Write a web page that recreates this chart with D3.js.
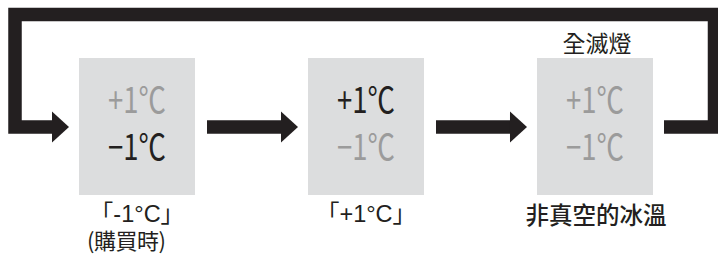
<!DOCTYPE html>
<html>
<head>
<meta charset="utf-8">
<script src="https://cdn.jsdelivr.net/npm/d3@7"></script>
<style>
  body { margin: 0; background: #fff; }
  svg { display: block; }
</style>
</head>
<body>
<div id="vis"></div>
<script>
// Estados del indicador (izquierda -> derecha)
const ESTADOS = ["menos", "mas", "apagado"];
const TEXTO_ARRIBA = ["+1℃", "+1℃", "+1℃"];
const TEXTO_ABAJO = ["−1℃", "−1℃", "−1℃"];
const ENCENDIDO_ARRIBA = [false, true, false];
const ENCENDIDO_ABAJO = [true, false, false];
const ETIQUETA_SUPERIOR = ["", "", "全滅燈"];
const ETIQUETA_1 = ["「-1°C」", "「+1°C」", "非真空的冰溫"];
const ETIQUETA_2 = ["(購買時)", "", ""];

const WIDTH = 718;
const HEIGHT = 254;
const NEGRO = "#231f20";
const GRIS = "#9b9b9b";
const FONDO_CAJA = "#dcddde";
const GROSOR = 13.5;
const Y_FLECHA = 127;
const CAJA_TOP = 58;
const CAJA_BOTTOM = 195;

const SVG = d3.select("#vis").append("svg")
    .attr("width", WIDTH)
    .attr("height", HEIGHT);

const datos = ESTADOS.map((e, i) => ({
    estado: e,
    arriba: TEXTO_ARRIBA[i],
    abajo: TEXTO_ABAJO[i],
    onArriba: ENCENDIDO_ARRIBA[i],
    onAbajo: ENCENDIDO_ABAJO[i],
    sup: ETIQUETA_SUPERIOR[i],
    et1: ETIQUETA_1[i],
    et2: ETIQUETA_2[i],
}));

// Posicion de cada caja
const escalaX = d3.scaleBand()
    .domain(ESTADOS)
    .range([79, 653])
    .paddingInner(0.4934)
    .paddingOuter(0);

const ancho = escalaX.bandwidth();
const centro = d => escalaX(d) + ancho / 2;
const FUENTE_CJK = "'Noto Sans CJK TC', sans-serif";

// Cajas
SVG.selectAll("g.caja")
    .data(datos)
    .join(enter => {
        const g = enter.append("g").attr("class", "caja");
        g.append("rect")
            .attr("x", d => escalaX(d.estado))
            .attr("y", CAJA_TOP)
            .attr("width", ancho)
            .attr("height", CAJA_BOTTOM - CAJA_TOP)
            .attr("fill", FONDO_CAJA);
        g.append("text")
            .attr("x", d => centro(d.estado))
            .attr("y", 113)
            .attr("text-anchor", "middle")
            .attr("font-family", FUENTE_CJK)
            .attr("font-weight", 400)
            .attr("font-size", 35)
            .attr("textLength", 58)
            .attr("lengthAdjust", "spacingAndGlyphs")
            .attr("fill", d => d.onArriba ? NEGRO : GRIS)
            .text(d => d.arriba);
        g.append("text")
            .attr("x", d => centro(d.estado))
            .attr("y", 160)
            .attr("text-anchor", "middle")
            .attr("font-family", FUENTE_CJK)
            .attr("font-weight", 400)
            .attr("font-size", 35)
            .attr("textLength", 58)
            .attr("lengthAdjust", "spacingAndGlyphs")
            .attr("fill", d => d.onAbajo ? NEGRO : GRIS)
            .text(d => d.abajo);
        g.append("text")
            .attr("x", d => centro(d.estado) + 2)
            .attr("y", 52)
            .attr("text-anchor", "middle")
            .attr("font-family", FUENTE_CJK)
            .attr("font-weight", 400)
            .attr("font-size", 23)
            .attr("fill", NEGRO)
            .text(d => d.sup);
        // Etiqueta bajo cada caja
        g.filter(d => d.estado != "apagado").append("text")
            .attr("x", d => centro(d.estado))
            .attr("y", 222)
            .attr("text-anchor", "middle")
            .attr("font-family", "'Liberation Sans', 'Noto Sans CJK TC', sans-serif")
            .attr("font-size", 23.5)
            .attr("fill", NEGRO)
            .text(d => d.et1);
        g.filter(d => d.estado == "apagado").append("text")
            .attr("x", d => centro(d.estado) + 1)
            .attr("y", 224)
            .attr("text-anchor", "middle")
            .attr("font-family", FUENTE_CJK)
            .attr("font-weight", 500)
            .attr("font-size", 23.5)
            .attr("fill", NEGRO)
            .text(d => d.et1);
        g.append("text")
            .attr("x", d => centro(d.estado) - 10)
            .attr("y", 249)
            .attr("text-anchor", "middle")
            .attr("font-family", FUENTE_CJK)
            .attr("font-weight", 400)
            .attr("font-size", 22)
            .attr("letter-spacing", 1)
            .attr("textLength", 80)
            .attr("fill", NEGRO)
            .text(d => d.et2);
        return g;
    });

// Flechas entre cajas
const PUNTA_LARGO = 17;
const PUNTA_MEDIO = 15.5;

function punta(xTip) {
    return [
        [xTip - PUNTA_LARGO, Y_FLECHA - PUNTA_MEDIO],
        [xTip, Y_FLECHA],
        [xTip - PUNTA_LARGO, Y_FLECHA + PUNTA_MEDIO],
    ];
}

const linea = d3.line();

const flechas = d3.pairs(ESTADOS).map(([a, b]) => ({
    x0: escalaX(a) + ancho + 12,
    x1: escalaX(b) - 10,
}));

SVG.selectAll("g.flecha")
    .data(flechas)
    .join(enter => {
        const g = enter.append("g").attr("class", "flecha");
        g.append("path")
            .attr("d", d => linea([[d.x0, Y_FLECHA], [d.x1 - PUNTA_LARGO + 1, Y_FLECHA]]))
            .attr("stroke", NEGRO)
            .attr("stroke-width", GROSOR)
            .attr("fill", "none");
        g.append("path")
            .attr("d", d => linea(punta(d.x1)) + "Z")
            .attr("fill", NEGRO);
        return g;
    });

// Regreso: desde la ultima caja hasta la primera por arriba
const primero = ESTADOS[0];
const ultimo = ESTADOS[ESTADOS.length - 1];
const xFin = escalaX(primero) - 10;
const regreso = [
    [escalaX(ultimo) + ancho + 11, Y_FLECHA],
    [714.5, Y_FLECHA],
    [714.5, 14.5],
    [15, 14.5],
    [15, Y_FLECHA],
    [xFin - PUNTA_LARGO + 1, Y_FLECHA],
];

SVG.append("path")
    .attr("d", linea(regreso))
    .attr("stroke", NEGRO)
    .attr("stroke-width", GROSOR)
    .attr("stroke-linejoin", "miter")
    .attr("fill", "none");

SVG.append("path")
    .attr("d", linea(punta(xFin)) + "Z")
    .attr("fill", NEGRO);
</script>
</body>
</html>
